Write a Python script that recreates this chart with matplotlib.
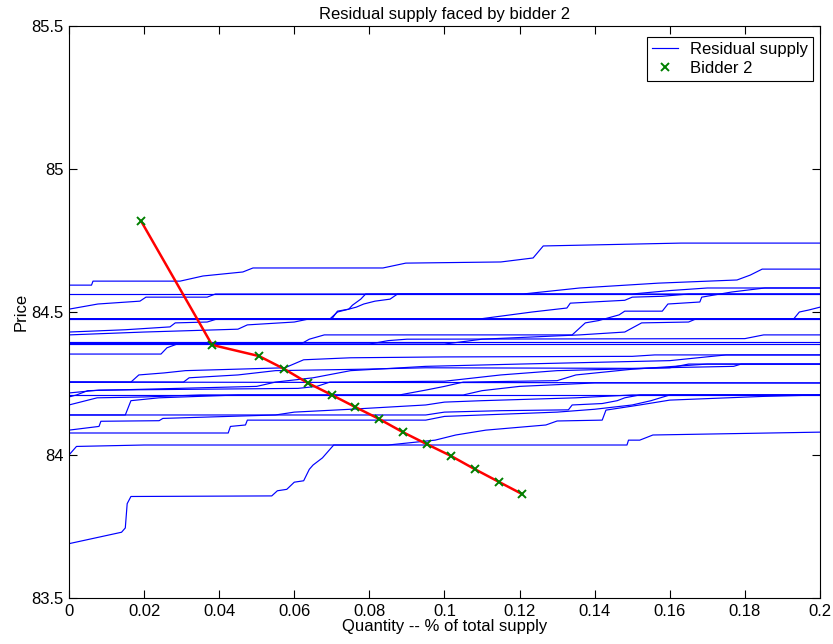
import matplotlib
matplotlib.use("Agg")
import matplotlib.pyplot as plt

plt.rcParams['font.family'] = ['Liberation Sans', 'DejaVu Sans']
plt.rcParams['font.size'] = 12

# bidder 2 bid points (quantity, price)
bid_q = [0.0192, 0.0381, 0.0506, 0.0573, 0.0636, 0.0700, 0.0762, 0.0826,
         0.0889, 0.0953, 0.1017, 0.1080, 0.1145, 0.1206]
bid_p = [84.818, 84.385, 84.346, 84.301, 84.252, 84.210, 84.168, 84.126,
         84.080, 84.038, 83.997, 83.951, 83.906, 83.864]

# residual supply curves, one list of quantities and one of prices per curve
curves_q = [
    [0, 0.0060, 0.0064, 0.0296, 0.0357, 0.0463, 0.0490, 0.0836, 0.0897, 0.1150, 0.1236, 0.1263, 0.1630, 0.2],
    [0, 0.2],
    [0, 0.0077, 0.0189, 0.0205, 0.0368, 0.0390, 0.1209, 0.1360, 0.1570, 0.1779, 0.1814, 0.1846, 0.2],
    [0, 0.2],
    [0, 0.0695, 0.0715, 0.0745, 0.0755, 0.0777, 0.0790, 0.2],
    [0, 0.0700, 0.0715, 0.0745, 0.0765, 0.0785, 0.0815, 0.0855, 0.0875, 0.1500, 0.1600, 0.1700, 0.2],
    [0, 0.1095, 0.1233, 0.1326, 0.1335, 0.1480, 0.1500, 0.1580, 0.1650, 0.2],
    [0, 0.1930, 0.1945, 0.1970, 0.2],
    [0, 0.0150, 0.0269, 0.0283, 0.0368, 0.0395, 0.2],
    [0, 0.0200, 0.0450, 0.0475, 0.0600, 0.0640, 0.2],
    [0, 0.2],
    [0, 0.2],
    [0, 0.0620, 0.0640, 0.0680, 0.1340, 0.1375, 0.1410, 0.1465, 0.1480, 0.1580, 0.1595, 0.1680, 0.1685, 0.1765, 0.1853, 0.2],
    [0, 0.0800, 0.0850, 0.0900, 0.1800, 0.1850, 0.2],
    [0, 0.0245, 0.0261, 0.0288, 0.1000, 0.1100, 0.1360, 0.1480, 0.1525, 0.1650, 0.1670, 0.2],
    [0, 0.2],
    [0, 0.0165, 0.0186, 0.0253, 0.0310, 0.0575, 0.0625, 0.0750, 0.1000, 0.1500, 0.1560, 0.2],
    [0, 0.0305, 0.0320, 0.0450, 0.0550, 0.0780, 0.0950, 0.1500, 0.1770, 0.1790, 0.2],
    [0, 0.2],
    [0, 0.0080, 0.0610, 0.0660, 0.0695, 0.1000, 0.1150, 0.1300, 0.1600, 0.1650, 0.2],
    [0, 0.0020, 0.0050, 0.0200, 0.0500, 0.0550, 0.0650, 0.0750, 0.0950, 0.1200, 0.1600, 0.1750, 0.2],
    [0, 0.0030, 0.0075, 0.0200, 0.0350, 0.0880, 0.0950, 0.1000, 0.1050, 0.1300, 0.1350, 0.1500, 0.1700, 0.2],
    [0, 0.0150, 0.0165, 0.0240, 0.0450, 0.1050, 0.1100, 0.1200, 0.1400, 0.2],
    [0, 0.0080, 0.0085, 0.0240, 0.0250, 0.0550, 0.0600, 0.0750, 0.0950, 0.1000, 0.1100, 0.1350, 0.1500, 0.2],
    [0, 0.0424, 0.0430, 0.0470, 0.0475, 0.0950, 0.1000, 0.1100, 0.1300, 0.1400, 0.1500, 0.1550, 0.1600, 0.2],
    [0, 0.0950, 0.1000, 0.1150, 0.1330, 0.1340, 0.1420, 0.1460, 0.1480, 0.1520, 0.2],
    [0, 0.0020, 0.0200, 0.0850, 0.0975, 0.1030, 0.1110, 0.1270, 0.1300, 0.1420, 0.1430, 0.1520, 0.1600, 0.1850, 0.2],
    [0, 0.0140, 0.0150, 0.0155, 0.0165, 0.0540, 0.0555, 0.0580, 0.0600, 0.0625, 0.0640, 0.0650, 0.0675, 0.0695,
     0.0705, 0.1486, 0.1490, 0.1520, 0.1555, 0.2],
]
curves_p = [
    [84.594, 84.594, 84.608, 84.608, 84.626, 84.640, 84.654, 84.654, 84.671, 84.675, 84.689, 84.731, 84.741, 84.741],
    [84.563, 84.563],
    [84.510, 84.528, 84.538, 84.552, 84.552, 84.563, 84.563, 84.584, 84.601, 84.612, 84.629, 84.650, 84.650],
    [84.476, 84.476],
    [84.476, 84.476, 84.500, 84.510, 84.524, 84.545, 84.563, 84.563],
    [84.476, 84.476, 84.503, 84.510, 84.517, 84.528, 84.538, 84.545, 84.563, 84.563, 84.575, 84.584, 84.584],
    [84.476, 84.476, 84.500, 84.514, 84.531, 84.541, 84.552, 84.555, 84.563, 84.563],
    [84.476, 84.476, 84.500, 84.507, 84.517],
    [84.430, 84.438, 84.448, 84.462, 84.465, 84.476, 84.476],
    [84.420, 84.430, 84.440, 84.455, 84.465, 84.476, 84.476],
    [84.395, 84.395],
    [84.388, 84.388],
    [84.390, 84.390, 84.405, 84.420, 84.420, 84.462, 84.470, 84.490, 84.503, 84.503, 84.528, 84.535, 84.552, 84.570, 84.584, 84.584],
    [84.388, 84.388, 84.400, 84.405, 84.407, 84.420, 84.420],
    [84.353, 84.353, 84.375, 84.388, 84.388, 84.405, 84.420, 84.430, 84.462, 84.465, 84.476, 84.476],
    [84.255, 84.252],
    [84.255, 84.255, 84.280, 84.287, 84.295, 84.305, 84.333, 84.340, 84.343, 84.345, 84.350, 84.350],
    [84.255, 84.255, 84.270, 84.280, 84.295, 84.300, 84.305, 84.303, 84.310, 84.318, 84.318],
    [84.210, 84.210],
    [84.217, 84.227, 84.233, 84.240, 84.255, 84.258, 84.280, 84.295, 84.305, 84.318, 84.318],
    [84.203, 84.210, 84.225, 84.230, 84.240, 84.255, 84.270, 84.295, 84.310, 84.318, 84.330, 84.350, 84.350],
    [84.175, 84.185, 84.200, 84.203, 84.210, 84.210, 84.227, 84.240, 84.255, 84.260, 84.280, 84.300, 84.318, 84.318],
    [84.140, 84.140, 84.190, 84.200, 84.210, 84.210, 84.225, 84.240, 84.252, 84.252],
    [84.087, 84.100, 84.118, 84.120, 84.128, 84.140, 84.150, 84.160, 84.175, 84.185, 84.190, 84.200, 84.210, 84.210],
    [84.077, 84.077, 84.100, 84.105, 84.122, 84.122, 84.135, 84.140, 84.150, 84.160, 84.175, 84.190, 84.210, 84.210],
    [84.140, 84.140, 84.150, 84.155, 84.158, 84.175, 84.180, 84.190, 84.200, 84.210, 84.210],
    [84.000, 84.030, 84.035, 84.035, 84.052, 84.070, 84.087, 84.105, 84.119, 84.122, 84.157, 84.175, 84.192, 84.205, 84.210],
    [83.690, 83.730, 83.745, 83.830, 83.855, 83.857, 83.875, 83.880, 83.905, 83.910, 83.950, 83.965, 83.990, 84.020,
     84.035, 84.035, 84.052, 84.052, 84.070, 84.080],
]

fig = plt.figure(figsize=(8.33, 6.44), dpi=100)
ax = fig.add_axes([0.0828, 0.0714, 0.9016, 0.8882])

for i in range(len(curves_q)):
    lbl = 'Residual supply' if i == 0 else None
    ax.plot(curves_q[i], curves_p[i], color=(0, 0, 1), lw=0.85, label=lbl)

ax.plot(bid_q, bid_p, color='red', lw=1.8)
ax.plot(bid_q, bid_p, 'x', color=(0, 0.5, 0), ms=6, mew=1.4, label='Bidder 2')

ax.set_xlim(0, 0.2)
ax.set_ylim(83.5, 85.5)
ax.set_xticks([0, 0.02, 0.04, 0.06, 0.08, 0.1, 0.12, 0.14, 0.16, 0.18, 0.2])
ax.set_xticklabels(['0', '0.02', '0.04', '0.06', '0.08', '0.1', '0.12', '0.14', '0.16', '0.18', '0.2'])
ax.set_yticks([83.5, 84, 84.5, 85, 85.5])
ax.set_yticklabels(['83.5', '84', '84.5', '85', '85.5'])
ax.tick_params(direction='in', top=True, right=True, length=6, width=0.8, labelsize=12, pad=4)
for s in ax.spines.values():
    s.set_linewidth(0.8)

ax.set_title('Residual supply faced by bidder 2', fontsize=12, pad=5)
ax.set_xlabel('Quantity -- % of total supply', fontsize=12, labelpad=0)
ax.set_ylabel('Price', fontsize=12, labelpad=2)

leg = ax.legend(loc='upper right', bbox_to_anchor=(0.9907, 0.9808), borderaxespad=0,
                fancybox=False, edgecolor='black', framealpha=1,
                handlelength=1.6, borderpad=0.3, labelspacing=0.25,
                handletextpad=0.7, fontsize=12)
leg.get_frame().set_linewidth(0.8)

fig.savefig('out.png', dpi=100)
